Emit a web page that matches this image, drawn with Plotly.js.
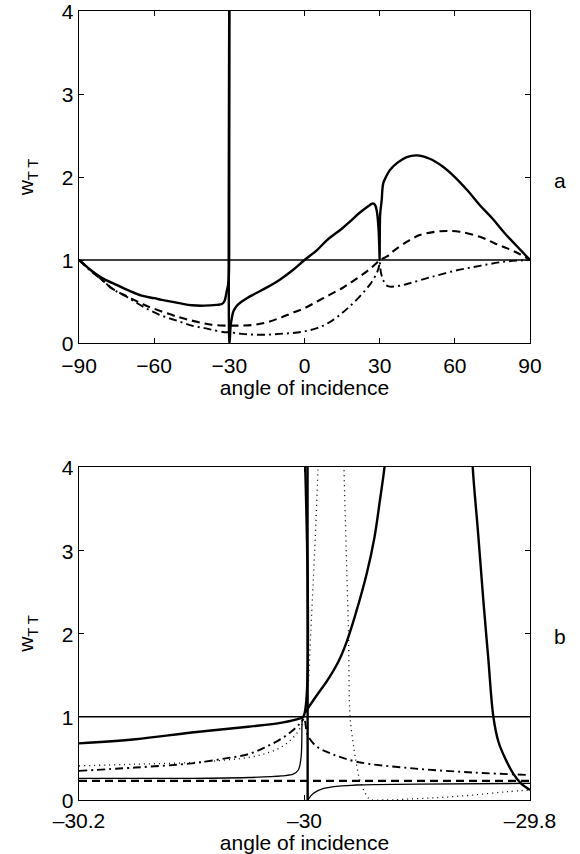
<!DOCTYPE html>
<html>
<head>
<meta charset="utf-8">
<script src="https://cdn.plot.ly/plotly-3.0.1.min.js"></script>
<style>html,body{margin:0;padding:0;background:#fff;}#chart{width:580px;height:854px;}</style>
</head>
<body>
<div id="chart"></div>
<script>
// ---------- Panel a : full angle range ----------
const aTicks = [-90, -60, -30, 0, 30, 60, 90];
const aRange = [-90, 90];
const refLevel = [1, 1];

const aSolidX = [-90,-85,-82.6,-80,-75,-70,-65,-60,-57,-50,-45,-40,-35,-33,-32,-31.2,-30.5,-30.2,-30.05,-30.01,null,-29.99,-29.98,-29.8,-29.5,-29,-28.4,-27,-25,-23,-20,-15,-10,-5,0,5,9,15,18,22,26,27,28,28.8,29.5,29.8,29.95,30,30.05,30.2,30.8,31.4,32.5,34,37,40.8,45,50,55,60,65,70,75,80,85,90];
const aSolidY = [1,0.87,0.82,0.77,0.7,0.63,0.57,0.54,0.52,0.48,0.455,0.45,0.46,0.47,0.5,0.6,0.7,0.8,1.3,4.5,null,4.5,0,0.05,0.2,0.3,0.38,0.45,0.5,0.54,0.59,0.67,0.76,0.87,1.0,1.12,1.24,1.38,1.46,1.57,1.66,1.68,1.67,1.6,1.4,1.2,1.05,1.0,1.3,1.55,1.72,1.92,2.0,2.08,2.17,2.24,2.26,2.22,2.13,2.0,1.84,1.66,1.5,1.32,1.16,1.0];

const aDashX = [-90,-85,-80,-77,-70,-64,-57,-50,-45,-40,-37,-32,-30,-25,-20,-15,-10,-5,0,5,10,15,18,22,26,29,30,32.8,36,42,46,52,57,62,70,76,81,86,90];
const aDashY = [1,0.87,0.74,0.66,0.55,0.46,0.38,0.31,0.27,0.235,0.22,0.21,0.21,0.21,0.22,0.25,0.3,0.36,0.42,0.5,0.58,0.66,0.72,0.8,0.89,0.97,1.0,1.04,1.12,1.24,1.3,1.34,1.35,1.34,1.28,1.2,1.14,1.07,1.0];

const aDashDotX = [-90,-85,-80,-77,-70,-64,-57,-50,-45,-40,-37,-32,-30,-25,-20,-15,-10,-5,0,5,10,15,18,22,26,28.8,29.7,30,30.5,31.4,32.5,34,38,42,50,60,70,80,90];
const aDashDotY = [1,0.86,0.74,0.66,0.54,0.43,0.33,0.26,0.21,0.18,0.16,0.13,0.13,0.11,0.1,0.1,0.11,0.12,0.14,0.18,0.25,0.36,0.44,0.56,0.7,0.84,0.92,0.98,0.85,0.76,0.7,0.68,0.69,0.72,0.79,0.87,0.93,0.98,1.0];

// ---------- Panel b : zoom near -30 ----------
const bTicks = [-30.2, -30, -29.8];
const bTickText = ['\u201330.2', '\u201330', '\u201329.8'];
const bRange = [-30.2, -29.8];

const bThickX = [-30.2,-30.15,-30.1,-30.05,-30.02,-30.004,-30.001,-30.0004,null,-29.9973,-29.9972,null,-29.9995,-29.99,-29.98,-29.97,-29.9626,-29.955,-29.9448,-29.938,-29.9331,-29.929,-29.927,null,-29.852,-29.8508,-29.846,-29.8414,-29.837,-29.8325,-29.828,-29.822,-29.815,-29.808,-29.8];
const bThickY = [0.68,0.73,0.81,0.88,0.93,0.98,1.0,4.5,null,4.5,0,null,1.05,1.24,1.43,1.66,1.9,2.22,2.72,3.15,3.6,4.0,4.3,null,4.5,4.0,3.2,2.4,1.7,1.0,0.7,0.5,0.32,0.2,0.12];

const bThinX = [-30.2,-30.1,-30.05,-30.02,-30.01,-30.0055,-30.003,-30.0022,-30.0018,null,-29.9972,-29.992,-29.983,-29.954,-29.9,-29.8];
const bThinY = [0.26,0.26,0.27,0.29,0.31,0.36,0.52,0.92,1.0,null,0,0.08,0.14,0.18,0.19,0.2];

const bDashX = [-30.2, -29.8];
const bDashY = [0.23, 0.23];

const bDashDotX = [-30.2,-30.15,-30.1,-30.07,-30.05,-30.034,-30.02,-30.01,-30.004,-30.001,null,-29.9995,-29.998,-29.9966,-29.989,-29.977,-29.954,-29.904,-29.85,-29.8];
const bDashDotY = [0.35,0.39,0.44,0.5,0.55,0.64,0.74,0.84,0.92,0.97,null,0.95,0.82,0.76,0.64,0.56,0.46,0.38,0.33,0.3];

const bDotX = [-30.2,-30.15,-30.1,-30.07,-30.05,-30.034,-30.02,-30.01,-30.004,-30.001,-29.998,-29.9966,-29.9945,-29.992,-29.99,-29.988,-29.987,null,-29.9655,-29.965,-29.963,-29.961,-29.9596,-29.957,-29.955,-29.951,-29.946,-29.942,-29.93,-29.91,-29.88,-29.85,-29.82,-29.8];
const bDotY = [0.41,0.43,0.45,0.48,0.51,0.56,0.64,0.75,0.86,0.96,1.2,1.4,2.0,2.7,3.3,4.0,4.5,null,4.5,4.0,3.0,2.0,1.0,0.7,0.52,0.24,0.08,0.01,0.0,0.01,0.03,0.06,0.1,0.12];

const yTicks = [0, 1, 2, 3, 4];
const yRange = [0, 4];

const K = '#000';
function ln(x, y, xa, ya, width, dash, smooth) {
  const line = {color: K, width: width, dash: dash};
  if (smooth) { line.shape = 'spline'; line.smoothing = smooth; }
  return {x: x, y: y, xaxis: xa, yaxis: ya, type: 'scatter', mode: 'lines',
          line: line, connectgaps: false, hoverinfo: 'skip'};
}

const traces = [
  ln(aRange, refLevel, 'x', 'y', 1.3, 'solid'),
  ln(aDashX, aDashY, 'x', 'y', 2.1, '8px,5px', 1),
  ln(aDashDotX, aDashDotY, 'x', 'y', 1.9, '8px,4px,2px,4px', 1),
  ln(aSolidX, aSolidY, 'x', 'y', 2.4, 'solid', 1),
  ln(bRange, refLevel, 'x2', 'y2', 1.3, 'solid'),
  ln(bDashX, bDashY, 'x2', 'y2', 2.1, '8px,5px'),
  ln(bDashDotX, bDashDotY, 'x2', 'y2', 1.9, '8px,4px,2px,4px', 1),
  ln(bDotX, bDotY, 'x2', 'y2', 1.3, '1px,4px', 1),
  ln(bThinX, bThinY, 'x2', 'y2', 1.3, 'solid', 1),
  ln(bThickX, bThickY, 'x2', 'y2', 2.4, 'solid', 1)
];

const font = {family: '"Liberation Sans", Arial, Helvetica, sans-serif', size: 21, color: K};
function xax(range, vals, text, anchor, lblOff, ttlOff) {
  const o = {range: range, tickmode: 'array', tickvals: vals, ticks: 'inside', ticklen: 5, tickwidth: 1,
    tickcolor: K, mirror: 'ticks', showline: true, linecolor: K, linewidth: 1.3, showgrid: false,
    zeroline: false, anchor: anchor, tickfont: font, automargin: false, ticklabeloverflow: 'allow',
    ticklabelstandoff: lblOff,
    title: {text: 'angle of incidence', font: font, standoff: ttlOff}};
  if (text) o.ticktext = text;
  return o;
}
function yax(domain, anchor) {
  return {domain: domain, range: yRange, tickmode: 'array', tickvals: yTicks, ticks: 'inside', ticklen: 5,
    tickwidth: 1, tickcolor: K, mirror: 'ticks', showline: true, linecolor: K, linewidth: 1.3,
    showgrid: false, zeroline: false, anchor: anchor, tickfont: font, automargin: false,
    ticklabeloverflow: 'allow', ticklabelshift: 1,
    title: {text: 'w<sub>T T</sub>', font: font, standoff: 22}};
}

const layout = {
  width: 580, height: 854,
  margin: {l: 79, r: 50, t: 11, b: 54},
  paper_bgcolor: '#fff', plot_bgcolor: '#fff',
  showlegend: false, hovermode: false,
  font: font,
  xaxis: xax(aRange, aTicks, null, 'y', 3, 2),
  yaxis: yax([0.5792, 1], 'x'),
  xaxis2: xax(bRange, bTicks, bTickText, 'y2', 1, 4),
  yaxis2: yax([0, 0.4221], 'x2'),
  annotations: [
    {text: 'a', xref: 'paper', yref: 'paper', x: 1.0665, y: 0.7858, showarrow: false, font: font, xanchor: 'center', yanchor: 'middle'},
    {text: 'b', xref: 'paper', yref: 'paper', x: 1.0665, y: 0.2066, showarrow: false, font: font, xanchor: 'center', yanchor: 'middle'}
  ]
};

Plotly.newPlot('chart', traces, layout, {staticPlot: true, displayModeBar: false});
</script>
</body>
</html>
